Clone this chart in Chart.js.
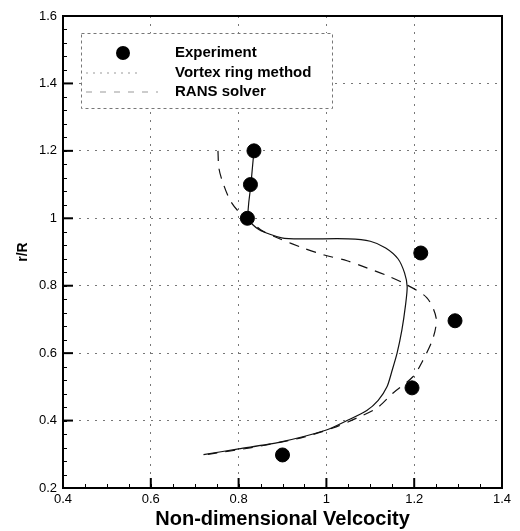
<!DOCTYPE html>
<html>
<head>
<meta charset="utf-8">
<script src="https://cdn.jsdelivr.net/npm/chart.js@4.4.0/dist/chart.umd.min.js"></script>
<style>
  html, body { margin: 0; padding: 0; background: #fff; }
  #wrap { width: 520px; height: 531px; position: relative; }
</style>
</head>
<body>
<div id="wrap"><canvas id="velChart"></canvas></div>
<script>
// measured points
var experimentX = [0.835, 0.827, 0.82, 1.215, 1.293, 1.195, 0.9];
var experimentY = [1.2, 1.1, 1.0, 0.897, 0.696, 0.497, 0.298];

// vortex ring method (solid)
var vortexX = [0.835, 0.828, 0.822, 0.846, 0.898, 0.95, 1.05, 1.1, 1.135, 1.163, 1.178, 1.184, 1.18, 1.172, 1.161, 1.15, 1.138, 1.118, 1.092, 1.047, 1.0, 0.894, 0.8, 0.72];
var vortexY = [1.2, 1.1, 1.0, 0.967, 0.942, 0.939, 0.939, 0.932, 0.912, 0.88, 0.838, 0.797, 0.74, 0.669, 0.6, 0.55, 0.5, 0.46, 0.43, 0.4, 0.372, 0.336, 0.316, 0.299];

// RANS solver (dashed)
var ransX = [0.753, 0.755, 0.762, 0.78, 0.8, 0.822, 0.85, 0.892, 0.947, 0.995, 1.047, 1.092, 1.14, 1.184, 1.229, 1.25, 1.243, 1.218, 1.197, 1.152, 1.115, 1.07, 1.015, 0.94, 0.826, 0.73];
var ransY = [1.2, 1.15, 1.114, 1.055, 1.02, 1.0, 0.966, 0.94, 0.912, 0.891, 0.874, 0.853, 0.829, 0.802, 0.764, 0.704, 0.645, 0.574, 0.53, 0.482, 0.437, 0.408, 0.378, 0.348, 0.319, 0.3];

var xTicks = [0.4, 0.6, 0.8, 1, 1.2, 1.4];
var yTicks = [0.2, 0.4, 0.6, 0.8, 1, 1.2, 1.4, 1.6];

function toPoints(xs, ys) {
    return xs.map(function (x, i) { return { x: x, y: ys[i] }; });
}

//-------------
//- FRAME, INSIDE TICKS, LEGEND -
//-------------
var framePlugin = {
    id: 'frame',
    afterDraw: function (chart) {
        var ctx = chart.ctx;
        var a = chart.chartArea;
        var xs = chart.scales.x, ys = chart.scales.y;
        ctx.save();
        ctx.strokeStyle = '#000';
        ctx.lineWidth = 1;
        // minor ticks
        for (var v = 0.4; v <= 1.4001; v += 0.05) {
            var px = Math.round(xs.getPixelForValue(v)) + 0.5;
            ctx.beginPath(); ctx.moveTo(px, a.bottom); ctx.lineTo(px, a.bottom - 4); ctx.stroke();
        }
        for (var w = 0.2; w <= 1.6001; w += 0.04) {
            var py = Math.round(ys.getPixelForValue(w)) + 0.5;
            ctx.beginPath(); ctx.moveTo(a.left, py); ctx.lineTo(a.left + 4, py); ctx.stroke();
        }
        // major ticks
        ctx.lineWidth = 2;
        xTicks.forEach(function (t) {
            var px = xs.getPixelForValue(t);
            ctx.beginPath(); ctx.moveTo(px, a.bottom); ctx.lineTo(px, a.bottom - 10); ctx.stroke();
        });
        yTicks.forEach(function (t) {
            var py = ys.getPixelForValue(t);
            ctx.beginPath(); ctx.moveTo(a.left, py); ctx.lineTo(a.left + 10, py); ctx.stroke();
        });
        // frame
        ctx.lineWidth = 2;
        ctx.strokeRect(a.left, a.top, a.right - a.left, a.bottom - a.top);

        // legend box
        var bx = 81, by = 33, bw = 251, bh = 75;
        ctx.fillStyle = '#fff';
        ctx.fillRect(bx, by, bw, bh);
        ctx.lineWidth = 1;
        ctx.strokeStyle = '#777';
        ctx.setLineDash([3, 3]);
        ctx.strokeRect(bx + 0.5, by + 0.5, bw, bh);
        ctx.setLineDash([]);

        var ds = chart.data.datasets;
        var rows = [53, 73, 92];
        ctx.font = 'bold 15px "Liberation Sans", Arial, sans-serif';
        ctx.textBaseline = 'middle';
        ds.forEach(function (d, i) {
            var yy = rows[i];
            ctx.strokeStyle = '#000';
            ctx.fillStyle = '#000';
            if (i === 0) {
                ctx.beginPath(); ctx.arc(123, yy, 7, 0, Math.PI * 2); ctx.fill();
            } else {
                ctx.strokeStyle = '#999';
                ctx.lineWidth = 1;
                ctx.setLineDash(i === 1 ? [2, 5] : [6, 8]);
                ctx.beginPath(); ctx.moveTo(86, yy); ctx.lineTo(i === 1 ? 142 : 158, yy); ctx.stroke();
                ctx.setLineDash([]);
            }
            ctx.fillStyle = '#000';
            ctx.fillText(d.label, 175, yy);
        });
        ctx.restore();
    }
};

var ctx = document.getElementById('velChart').getContext('2d');
new Chart(ctx, {
    type: 'scatter',
    data: {
        datasets: [
            {
                label: 'Experiment',
                data: toPoints(experimentX, experimentY),
                backgroundColor: '#000',
                borderColor: '#000',
                pointRadius: 7,
                showLine: false
            },
            {
                label: 'Vortex ring method',
                data: toPoints(vortexX, vortexY),
                borderColor: '#111',
                borderWidth: 1.2,
                pointRadius: 0,
                showLine: true,
                tension: 0.25
            },
            {
                label: 'RANS solver',
                data: toPoints(ransX, ransY),
                borderColor: '#111',
                borderWidth: 1.2,
                borderDash: [10, 8],
                pointRadius: 0,
                showLine: true,
                tension: 0.3
            }
        ]
    },
    options: {
        responsive: true,
        maintainAspectRatio: false,
        animation: false,
        layout: { padding: { top: 16, right: 18, left: 0, bottom: 0 } },
        plugins: { legend: { display: false }, tooltip: { enabled: false } },
        scales: {
            x: {
                type: 'linear',
                min: 0.4, max: 1.4,
                afterBuildTicks: function (s) { s.ticks = xTicks.map(function (v) { return { value: v }; }); },
                afterFit: function (s) { s.height = 43; },
                grid: { color: '#777', drawTicks: false },
                border: { display: false, dash: [2, 6] },
                ticks: {
                    padding: 4,
                    color: '#000',
                    font: { family: '"Liberation Sans", Arial, sans-serif', size: 13 },
                    callback: function (v) { return String(v); }
                },
                title: {
                    display: true,
                    text: 'Non-dimensional Velcocity',
                    color: '#000',
                    padding: { top: 0, bottom: 0 },
                    font: { family: '"Liberation Sans", Arial, sans-serif', size: 20, weight: 'bold' }
                }
            },
            y: {
                type: 'linear',
                min: 0.2, max: 1.6,
                afterBuildTicks: function (s) { s.ticks = yTicks.map(function (v) { return { value: v }; }); },
                afterFit: function (s) { s.width = 63; },
                grid: { color: '#777', drawTicks: false },
                border: { display: false, dash: [2, 6] },
                ticks: {
                    padding: 6,
                    color: '#000',
                    font: { family: '"Liberation Sans", Arial, sans-serif', size: 13 },
                    callback: function (v) { return String(v); }
                },
                title: {
                    display: true,
                    text: 'r/R',
                    color: '#000',
                    padding: { top: 15, bottom: 0 },
                    font: { family: '"Liberation Sans", Arial, sans-serif', size: 14, weight: 'bold' }
                }
            }
        }
    },
    plugins: [framePlugin]
});
</script>
</body>
</html>
